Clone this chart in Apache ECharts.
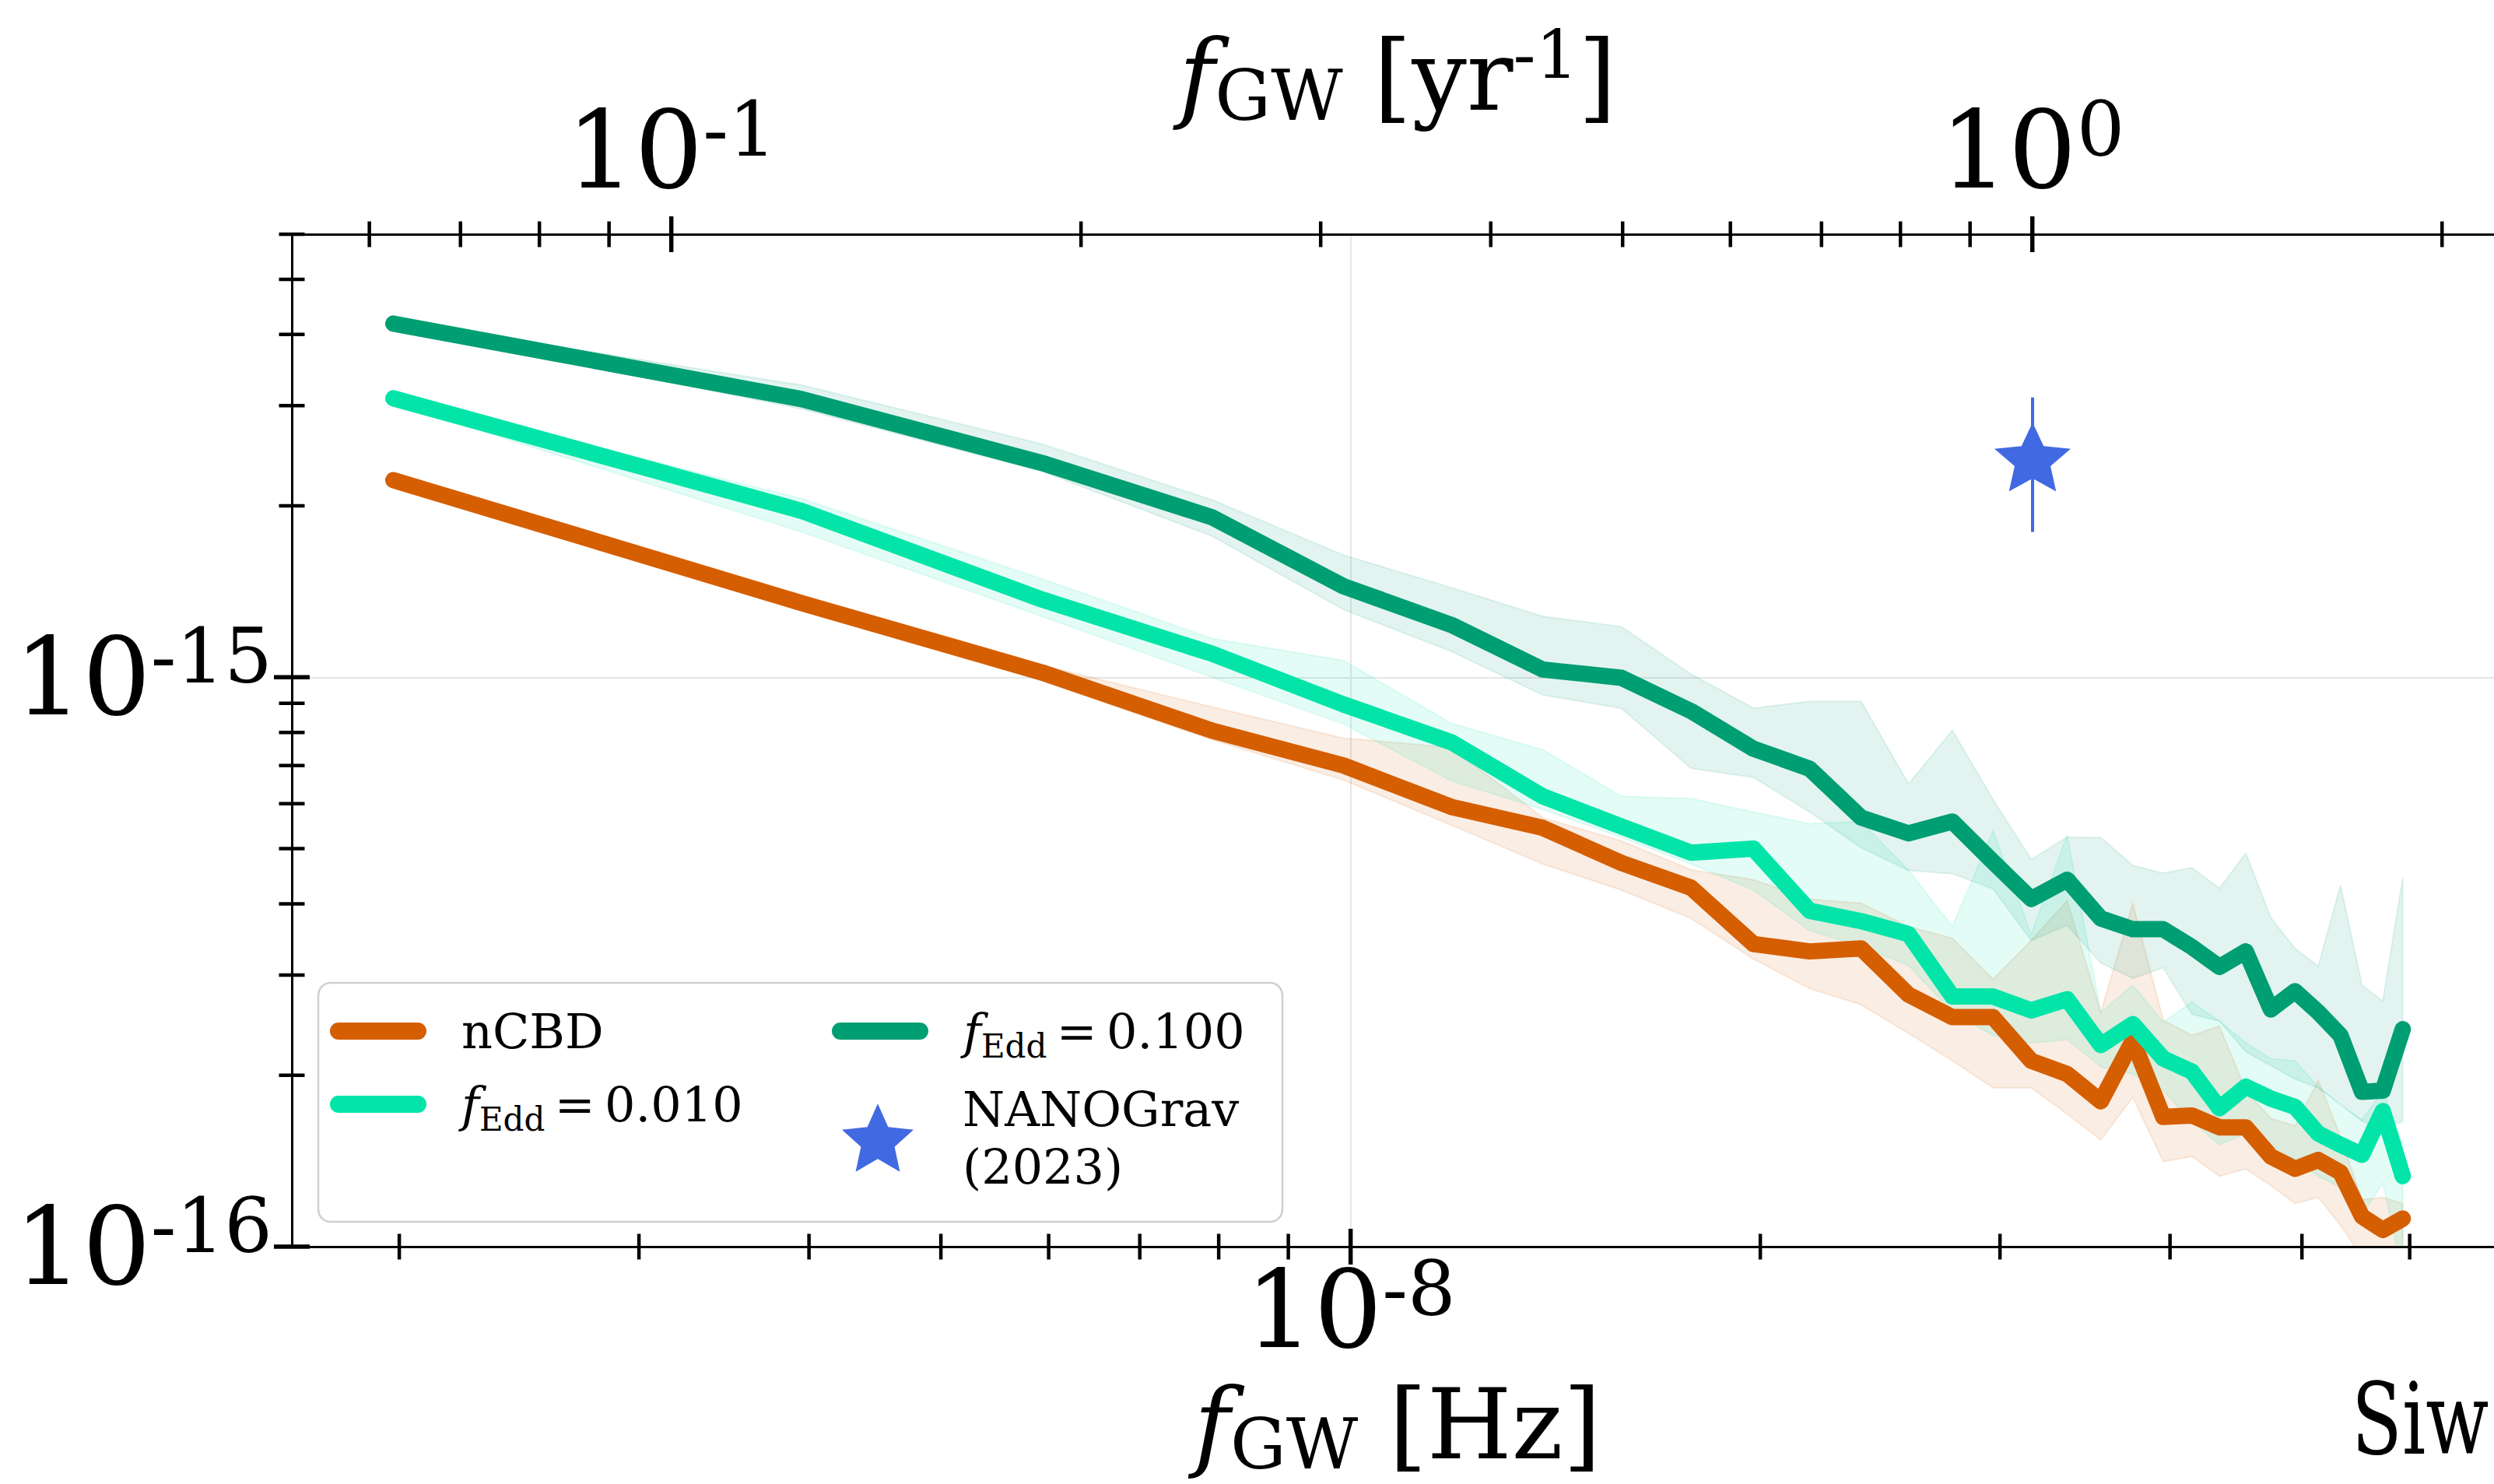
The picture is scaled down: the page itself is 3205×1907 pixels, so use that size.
<!DOCTYPE html>
<html>
<head>
<meta charset="utf-8">
<script src="https://cdn.jsdelivr.net/npm/echarts@6/dist/echarts.min.js"></script>
<style>
  html, body { margin: 0; padding: 0; background: #ffffff; overflow: hidden; }
  #chart { width: 3300px; height: 1907px; }
</style>
</head>
<body>
<div id="chart"></div>
<script>
// Frequency bins of the spectrum, in Hz
const freqHz = [
  1.98e-9, 3.95e-9, 5.93e-9, 7.91e-9, 9.88e-9,
  1.186e-8, 1.384e-8, 1.581e-8, 1.779e-8, 1.977e-8,
  2.174e-8, 2.372e-8, 2.570e-8, 2.768e-8, 2.965e-8,
  3.163e-8, 3.361e-8, 3.558e-8, 3.756e-8, 3.954e-8,
  4.151e-8, 4.349e-8, 4.547e-8, 4.744e-8, 4.942e-8,
  5.140e-8, 5.337e-8, 5.535e-8, 5.733e-8, 5.930e-8
];

// Characteristic strain h_c: nCBD model (median and spread)
const hcNCBD = [
  2.22e-15, 1.35e-15, 1.02e-15, 8.06e-16, 7.00e-16,
  5.92e-16, 5.44e-16, 4.72e-16, 4.27e-16, 3.40e-16,
  3.30e-16, 3.34e-16, 2.77e-16, 2.53e-16, 2.53e-16,
  2.12e-16, 2.01e-16, 1.80e-16, 2.30e-16, 1.69e-16,
  1.70e-16, 1.62e-16, 1.62e-16, 1.44e-16, 1.37e-16,
  1.42e-16, 1.35e-16, 1.13e-16, 1.07e-16, 1.12e-16
];
const hcNCBDHigh = [
  2.25e-15, 1.37e-15, 1.05e-15, 8.87e-16, 7.82e-16,
  7.53e-16, 5.67e-16, 5.16e-16, 4.59e-16, 4.41e-16,
  4.08e-16, 4.01e-16, 3.65e-16, 3.48e-16, 2.95e-16,
  3.45e-16, 4.05e-16, 2.58e-16, 4.01e-16, 2.50e-16,
  2.35e-16, 2.44e-16, 1.88e-16, 1.68e-16, 1.63e-16,
  1.96e-16, 1.56e-16, 1.21e-16, 1.22e-16, 1.19e-16
];
const hcNCBDLow = [
  2.18e-15, 1.33e-15, 9.86e-16, 7.77e-16, 6.60e-16,
  5.50e-16, 4.70e-16, 4.23e-16, 3.77e-16, 3.20e-16,
  2.84e-16, 2.66e-16, 2.37e-16, 2.12e-16, 1.90e-16,
  1.90e-16, 1.71e-16, 1.54e-16, 1.83e-16, 1.41e-16,
  1.44e-16, 1.33e-16, 1.37e-16, 1.28e-16, 1.19e-16,
  1.22e-16, 1.09e-16, 9.6e-17, 9.3e-17, 9.6e-17
];

// Characteristic strain h_c: f_Edd = 0.010
const hcEdd010 = [
  3.09e-15, 1.96e-15, 1.37e-15, 1.10e-15, 8.96e-16,
  7.69e-16, 6.18e-16, 5.47e-16, 4.92e-16, 5.00e-16,
  3.89e-16, 3.73e-16, 3.54e-16, 2.75e-16, 2.75e-16,
  2.60e-16, 2.72e-16, 2.26e-16, 2.46e-16, 2.14e-16,
  2.03e-16, 1.75e-16, 1.91e-16, 1.82e-16, 1.76e-16,
  1.58e-16, 1.51e-16, 1.45e-16, 1.73e-16, 1.33e-16
];
const hcEdd010High = [
  3.12e-15, 2.06e-15, 1.49e-15, 1.17e-15, 1.07e-15,
  8.30e-16, 7.46e-16, 6.18e-16, 6.12e-16, 5.80e-16,
  5.53e-16, 5.58e-16, 4.58e-16, 3.65e-16, 5.38e-16,
  3.54e-16, 5.29e-16, 2.58e-16, 2.88e-16, 2.48e-16,
  2.69e-16, 2.49e-16, 2.28e-16, 2.14e-16, 2.12e-16,
  1.91e-16, 1.77e-16, 1.67e-16, 1.88e-16, 1.51e-16
];
const hcEdd010Low = [
  3.03e-15, 1.80e-15, 1.28e-15, 1.00e-15, 8.28e-16,
  6.58e-16, 5.86e-16, 5.24e-16, 4.70e-16, 4.23e-16,
  3.59e-16, 3.37e-16, 3.12e-16, 2.58e-16, 2.35e-16,
  2.28e-16, 2.31e-16, 2.07e-16, 2.01e-16, 1.88e-16,
  1.66e-16, 1.51e-16, 1.58e-16, 1.51e-16, 1.42e-16,
  1.33e-16, 1.27e-16, 1.14e-16, 1.29e-16, 9.0e-17
];

// Characteristic strain h_c: f_Edd = 0.100
const hcEdd100 = [
  4.18e-15, 3.08e-15, 2.38e-15, 1.91e-15, 1.445e-15,
  1.236e-15, 1.032e-15, 9.98e-16, 8.72e-16, 7.49e-16,
  6.91e-16, 5.67e-16, 5.32e-16, 5.58e-16, 4.74e-16,
  4.08e-16, 4.41e-16, 3.77e-16, 3.61e-16, 3.61e-16,
  3.36e-16, 3.10e-16, 3.30e-16, 2.61e-16, 2.81e-16,
  2.58e-16, 2.35e-16, 1.87e-16, 1.88e-16, 2.41e-16
];
const hcEdd100High = [
  4.23e-15, 3.26e-15, 2.57e-15, 2.05e-15, 1.64e-15,
  1.437e-15, 1.28e-15, 1.227e-15, 1.013e-15, 8.83e-16,
  9.07e-16, 9.07e-16, 6.50e-16, 8.07e-16, 6.10e-16,
  4.79e-16, 5.24e-16, 5.23e-16, 4.67e-16, 4.53e-16,
  4.63e-16, 4.26e-16, 4.91e-16, 3.78e-16, 3.34e-16,
  3.11e-16, 4.31e-16, 2.88e-16, 2.70e-16, 4.44e-16
];
const hcEdd100Low = [
  4.13e-15, 2.96e-15, 2.30e-15, 1.77e-15, 1.315e-15,
  1.11e-15, 9.31e-16, 8.82e-16, 6.92e-16, 6.67e-16,
  5.80e-16, 5.02e-16, 4.58e-16, 4.52e-16, 4.25e-16,
  3.45e-16, 3.67e-16, 3.15e-16, 2.96e-16, 3.09e-16,
  2.56e-16, 2.49e-16, 2.20e-16, 2.08e-16, 1.97e-16,
  1.90e-16, 1.78e-16, 1.66e-16, 1.61e-16, 1.66e-16
];

// NANOGrav 15-yr amplitude at f = 1/yr, with its uncertainty
const nanogravFreqHz = [3.17e-8];
const nanogravAmp = [2.4e-15];
const nanogravLow = [1.8e-15];
const nanogravHigh = [3.1e-15];

// Tick values
const xTicksHzMajor = [1e-8];
const xTicksHzMinor = [2e-9, 3e-9, 4e-9, 5e-9, 6e-9, 7e-9, 8e-9, 9e-9, 2e-8, 3e-8, 4e-8, 5e-8, 6e-8, 7e-8];
const xTicksYrMajor = [0.1, 1];
const xTicksYrMinor = [0.06, 0.07, 0.08, 0.09, 0.2, 0.3, 0.4, 0.5, 0.6, 0.7, 0.8, 0.9, 2];
const yTicksMajor = [1e-16, 1e-15];
const yTicksMinor = [2e-16, 3e-16, 4e-16, 5e-16, 6e-16, 7e-16, 8e-16, 9e-16, 2e-15, 3e-15, 4e-15, 5e-15, 6e-15];

// Axis ranges
const SEC_PER_YR = 3.15576e7;
const X_MIN_HZ = 1.6675e-9;
const X_MAX_HZ = 7.03e-8;
const Y_MIN = 1e-16;
const Y_MAX = 6e-15;

const FONT = 'DejaVu Serif';
const COLOR_NCBD = '#D55E00';
const COLOR_E010 = '#03E4A9';
const COLOR_E100 = '#009E73';
const COLOR_NANO = '#4169E1';

const NAME_NCBD = 'nCBD';
const NAME_E010 = 'f_Edd = 0.010';
const NAME_E100 = 'f_Edd = 0.100';
const NAME_NANO = 'NANOGrav (2023)';

function starPath(R, inner) {
  const pts = [];
  for (let k = 0; k < 10; k++) {
    const a = -Math.PI / 2 + k * Math.PI / 5;
    const r = (k % 2) ? R * inner : R;
    pts.push((r * Math.cos(a)).toFixed(3) + ',' + (r * Math.sin(a)).toFixed(3));
  }
  return 'path://M' + pts.join('L') + 'Z';
}
const STAR = starPath(50, 0.47);
const STADIUM = 'path://M11,0L113,0A11,11,0,0,1,113,22L11,22A11,11,0,0,1,11,0Z';

function powLabel(v) {
  const e = Math.round(Math.log10(v));
  return '{b|10}{s|' + (e < 0 ? '-' : '') + Math.abs(e) + '}';
}
const tickRich = {
  b: { fontFamily: FONT, fontSize: 138, lineHeight: 150, color: '#000' },
  s: { fontFamily: FONT, fontSize: 97, lineHeight: 88, verticalAlign: 'top', color: '#000' }
};

function bandSeries(low, high, color) {
  return {
    type: 'custom', coordinateSystem: 'cartesian2d', silent: true, clip: true, z: 1,
    data: [[freqHz[0], high[0]]],
    renderItem: function (params, api) {
      const pts = [];
      for (let i = 0; i < freqHz.length; i++) pts.push(api.coord([freqHz[i], high[i]]));
      for (let i = freqHz.length - 1; i >= 0; i--) pts.push(api.coord([freqHz[i], low[i]]));
      return {
        type: 'polygon', shape: { points: pts },
        style: { fill: color, stroke: color, lineWidth: 2, opacity: 0.11 }
      };
    }
  };
}

function lineSeries(name, values, color) {
  return {
    name: name, type: 'line', z: 3, showSymbol: false, symbol: 'none',
    color: color,
    data: freqHz.map((f, i) => [f, values[i]]),
    lineStyle: { color: color, width: 21, cap: 'round', join: 'round' }
  };
}

function tickSeries(xAxisIndex, points, side, len, width) {
  return {
    type: 'custom', coordinateSystem: 'cartesian2d', xAxisIndex: xAxisIndex, yAxisIndex: 0,
    silent: true, clip: false, z: 8,
    data: points,
    renderItem: function (params, api) {
      const p = api.coord([api.value(0), api.value(1)]);
      const h = len / 2;
      const shape = side === 'left'
        ? { x1: p[0] - h, y1: p[1], x2: p[0] + h, y2: p[1] }
        : { x1: p[0], y1: p[1] - h, x2: p[0], y2: p[1] + h };
      return { type: 'line', shape: shape, style: { stroke: '#000', lineWidth: width } };
    }
  };
}

const legendLabels = {};
legendLabels[NAME_NCBD] = '{g|}{t|nCBD}';
legendLabels[NAME_E010] = '{g|}{f|f}{sub|Edd}{t|\u2009=\u20090.010}';
legendLabels[NAME_E100] = '{g|}{f|f}{sub|Edd}{t|\u2009=\u20090.100}';
legendLabels[NAME_NANO] = '{g2|}{t2|NANOGrav}\n{g2|}{t2|(2023)}';
const legendRich = {
  g: { width: 40 },
  g2: { width: 58 },
  t: { fontFamily: FONT, fontSize: 62, lineHeight: 80, color: '#000' },
  t2: { fontFamily: FONT, fontSize: 62, lineHeight: 74, color: '#000' },
  f: { fontFamily: FONT, fontStyle: 'italic', fontSize: 62, lineHeight: 80, color: '#000' },
  sub: { fontFamily: FONT, fontSize: 42, lineHeight: 52, verticalAlign: 'bottom', color: '#000' }
};
function legendBlock(names, left, top, iw, ih, icon, gap) {
  return {
    show: true, orient: 'vertical', left: left, top: top, padding: 0,
    itemWidth: iw, itemHeight: ih, itemGap: gap, selectedMode: false, z: 10,
    data: names.map(n => ({ name: n, icon: icon })),
    formatter: function (name) { return legendLabels[name]; },
    textStyle: { rich: legendRich }
  };
}

const chart = echarts.init(document.getElementById('chart'), null, { renderer: 'svg' });

const option = {
  animation: false,
  backgroundColor: '#ffffff',
  textStyle: { fontFamily: FONT },
  grid: { left: 375, top: 301, width: 2842, height: 1301, containLabel: false, outerBoundsMode: 'none' },
  xAxis: [
    {
      type: 'log', logBase: 10, position: 'bottom', min: X_MIN_HZ, max: X_MAX_HZ,
      axisLine: { show: true, lineStyle: { color: '#000', width: 3 } },
      axisTick: { show: false },
      splitLine: { show: true, lineStyle: { color: '#e6e6e6', width: 2 } },
      axisLabel: { margin: 6, showMinLabel: false, showMaxLabel: false, formatter: powLabel, rich: tickRich },
      name: '{f|f}{sub|GW}{t| [Hz]}', nameLocation: 'middle', nameGap: 158, nameMoveOverlap: false,
      nameTextStyle: { rich: {
        f: { fontFamily: FONT, fontStyle: 'italic', fontSize: 125, lineHeight: 140, color: '#000' },
        sub: { fontFamily: FONT, fontSize: 90, lineHeight: 70, verticalAlign: 'bottom', color: '#000' },
        t: { fontFamily: FONT, fontSize: 125, lineHeight: 140, color: '#000' }
      } }
    },
    {
      type: 'log', logBase: 10, position: 'top',
      min: X_MIN_HZ * SEC_PER_YR, max: X_MAX_HZ * SEC_PER_YR,
      axisLine: { show: true, lineStyle: { color: '#000', width: 3 } },
      axisTick: { show: false },
      splitLine: { show: false },
      axisLabel: { margin: 33, showMinLabel: false, showMaxLabel: false, formatter: powLabel, rich: tickRich },
      name: '{f|f}{sub|GW}{t| [yr}{sup|-1}{t|]}', nameLocation: 'middle', nameGap: 134, nameMoveOverlap: false,
      nameTextStyle: { rich: {
        f: { fontFamily: FONT, fontStyle: 'italic', fontSize: 125, lineHeight: 140, color: '#000' },
        sub: { fontFamily: FONT, fontSize: 90, lineHeight: 68, verticalAlign: 'bottom', color: '#000' },
        sup: { fontFamily: FONT, fontSize: 86, lineHeight: 56, verticalAlign: 'top', color: '#000' },
        t: { fontFamily: FONT, fontSize: 125, lineHeight: 140, color: '#000' }
      } }
    }
  ],
  yAxis: [
    {
      type: 'log', logBase: 10, min: Y_MIN, max: Y_MAX,
      axisLine: { show: true, lineStyle: { color: '#000', width: 3 } },
      axisTick: { show: false },
      splitLine: { show: true, lineStyle: { color: '#e6e6e6', width: 2 } },
      axisLabel: { margin: 25, showMinLabel: true, showMaxLabel: false, formatter: powLabel, rich: tickRich }
    }
  ],
  legend: [
    legendBlock([NAME_NCBD, NAME_E010], 424, 1294, 124, 22, STADIUM, 32),
    legendBlock([NAME_E100], 1069, 1294, 124, 22, STADIUM, 32),
    legendBlock([NAME_NANO], 1082, 1394, 92, 88, STAR, 19)
  ],
  graphic: [
    {
      type: 'rect', z: 9, silent: true,
      shape: { x: 409, y: 1263, width: 1239, height: 307, r: 16 },
      style: { fill: 'rgba(255,255,255,0.8)', stroke: '#cfcfcf', lineWidth: 2.5 }
    },
    {
      type: 'text', z: 9, silent: true, x: 3022, y: 1760, scaleX: 0.74,
      style: { text: 'Siw', fontFamily: FONT, fontSize: 128, fill: '#000', verticalAlign: 'top' }
    }
  ],
  series: [
    bandSeries(hcNCBDLow, hcNCBDHigh, COLOR_NCBD),
    bandSeries(hcEdd010Low, hcEdd010High, COLOR_E010),
    bandSeries(hcEdd100Low, hcEdd100High, COLOR_E100),
    lineSeries(NAME_NCBD, hcNCBD, COLOR_NCBD),
    lineSeries(NAME_E010, hcEdd010, COLOR_E010),
    lineSeries(NAME_E100, hcEdd100, COLOR_E100),
    {
      type: 'custom', coordinateSystem: 'cartesian2d', silent: true, z: 4,
      data: nanogravFreqHz.map((f, i) => [f, nanogravLow[i], nanogravHigh[i]]),
      encode: { x: 0, y: [1, 2] },
      renderItem: function (params, api) {
        const a = api.coord([api.value(0), api.value(1)]);
        const b = api.coord([api.value(0), api.value(2)]);
        return { type: 'line', shape: { x1: a[0], y1: a[1], x2: b[0], y2: b[1] },
                 style: { stroke: COLOR_NANO, lineWidth: 4 } };
      }
    },
    {
      name: NAME_NANO, type: 'scatter', z: 5, color: COLOR_NANO,
      itemStyle: { color: COLOR_NANO, opacity: 1 },
      symbol: STAR, symbolSize: [98, 93], symbolKeepAspect: true, symbolOffset: [0, -5],
      data: nanogravFreqHz.map((f, i) => [f, nanogravAmp[i]])
    },
    tickSeries(0, xTicksHzMajor.map(v => [v, Y_MIN]), 'bottom', 46, 5.5),
    tickSeries(0, xTicksHzMinor.map(v => [v, Y_MIN]), 'bottom', 33, 4.5),
    tickSeries(1, xTicksYrMajor.map(v => [v, Y_MAX]), 'top', 46, 5.5),
    tickSeries(1, xTicksYrMinor.map(v => [v, Y_MAX]), 'top', 33, 4.5),
    tickSeries(0, yTicksMajor.map(v => [X_MIN_HZ, v]), 'left', 46, 5.5),
    tickSeries(0, yTicksMinor.map(v => [X_MIN_HZ, v]), 'left', 33, 4.5)
  ]
};
chart.setOption(option);
</script>
</body>
</html>
